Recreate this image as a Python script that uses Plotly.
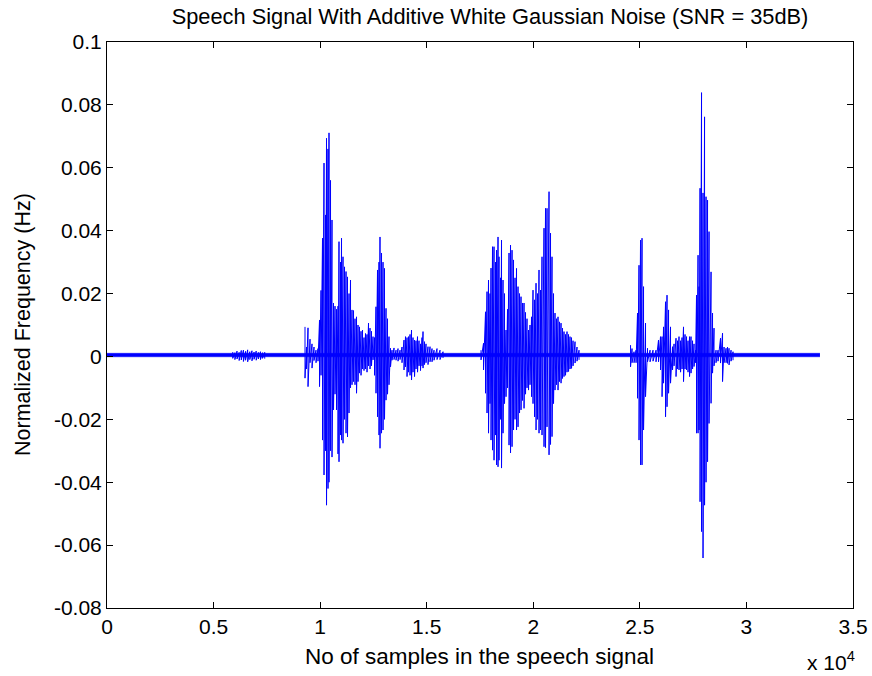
import plotly.graph_objects as go

# ---------------- data ----------------
# Noise floor envelope (sample index, upper, lower)
band_x = [0, 33450]
band_hi = [0.0010, 0.0010]
band_lo = [-0.0001, -0.0001]

# Voiced / noisy bursts: sample index, positive peak, negative peak
burst_x = [
    5900, 6000, 6100, 6200, 6300, 6400, 6500, 6600, 6700, 6800, 6900, 7000, 7100, 7200, 7300, 7400,
    None,
    9290, 9361, 9431, 9525, 9619, 9712, 9806, 9900, 9971, 10041, 10111, 10182, 10252, 10299,
    10369, 10416, 10487, 10557, 10627, 10698, 10768, 10838, 10885, 10956, 11003, 11073, 11144,
    11214, 11284, 11355, 11425, 11495, 11566, 11636, 11707, 11777, 11847, 11918, 11988, 12058,
    12129, 12199, 12270, 12340, 12410, 12481, 12551, 12621, 12692, 12762, 12809, 12880, 12950,
    13020, 13091, 13161, 13231, 13302, 13372, 13466, 13560, 13654, 13748, 13841, 13935, 14006,
    14076, 14146, 14217, 14287, 14357, 14428, 14498, 14569, 14639, 14709, 14780, 14827, 14897,
    14967, 15061, 15155, 15249, 15343, 15484, 15624, 15765,
    None,
    17548, 17665, 17759, 17830, 17900, 17970, 18017, 18088, 18158, 18228, 18275, 18346, 18393,
    18463, 18510, 18580, 18651, 18721, 18791, 18862, 18932, 19003, 19073, 19143, 19214, 19284,
    19354, 19425, 19495, 19566, 19636, 19706, 19777, 19847, 19918, 19988, 20058, 20129, 20199,
    20269, 20340, 20410, 20504, 20574, 20645, 20739, 20809, 20879, 20950, 21020, 21091, 21161,
    21231, 21302, 21372, 21442, 21513, 21583, 21654, 21724, 21794, 21865, 21959, 22052, 22146,
    None,
    24563, 24633, 24727, 24821, 24891, 24961, 25032, 25102, 25173, 25266, 25360, 25478, 25618,
    25759, 25876, 25970, 26041, 26111, 26205, 26275, 26346, 26439, 26533, 26604, 26697, 26768,
    26838, 26909, 26979, 27049, 27120, 27190, 27260, 27331, 27401, 27472, 27542, 27612, 27659,
    27730, 27777, 27824, 27894, 27964, 28035, 28105, 28176, 28246, 28340, 28410, 28480, 28574,
    28668, 28785, 28879, 28950, 29044, 29114, 29184, 29278, 29372,
]
burst_hi = [
    0.0014, 0.0012, 0.0017, 0.0013, 0.0019, 0.0020, 0.0016, 0.0021, 0.0015, 0.0018, 0.0014, 0.0017,
    0.0013, 0.0015, 0.0012, 0.0013,
    None,
    0.0094, 0.0030, 0.0091, 0.0055, 0.0040, 0.0030, 0.0020, 0.0025, 0.0116, 0.0210, 0.0376, 0.0615,
    0.0450, 0.0694, 0.0660, 0.0711, 0.0560, 0.0434, 0.0170, 0.0160, 0.0150, 0.0160, 0.0365, 0.0300,
    0.0376, 0.0317, 0.0285, 0.0270, 0.0253, 0.0200, 0.0243, 0.0148, 0.0146, 0.0120, 0.0126, 0.0100,
    0.0094, 0.0080, 0.0084, 0.0060, 0.0073, 0.0070, 0.0106, 0.0090, 0.0080, 0.0063, 0.0060, 0.0158,
    0.0275, 0.0300, 0.0380, 0.0329, 0.0300, 0.0280, 0.0153, 0.0120, 0.0063, 0.0026, 0.0020, 0.0027,
    0.0020, 0.0025, 0.0020, 0.0030, 0.0052, 0.0063, 0.0060, 0.0063, 0.0070, 0.0084, 0.0060, 0.0052,
    0.0050, 0.0063, 0.0050, 0.0040, 0.0060, 0.0079, 0.0047, 0.0040, 0.0031, 0.0031, 0.0025, 0.0020,
    0.0025, 0.0020, 0.0015,
    None,
    0.0020, 0.0042, 0.0142, 0.0206, 0.0243, 0.0200, 0.0281, 0.0349, 0.0349, 0.0300, 0.0338, 0.0380,
    0.0317, 0.0250, 0.0370, 0.0243, 0.0200, 0.0084, 0.0150, 0.0329, 0.0354, 0.0338, 0.0307, 0.0250,
    0.0280, 0.0222, 0.0200, 0.0190, 0.0170, 0.0170, 0.0140, 0.0120, 0.0084, 0.0100, 0.0126, 0.0211,
    0.0180, 0.0233, 0.0200, 0.0275, 0.0211, 0.0317, 0.0408, 0.0471, 0.0471, 0.0524, 0.0392, 0.0317,
    0.0200, 0.0138, 0.0120, 0.0126, 0.0110, 0.0106, 0.0090, 0.0079, 0.0070, 0.0079, 0.0070, 0.0063,
    0.0060, 0.0050, 0.0047, 0.0030, 0.0020,
    None,
    0.0036, 0.0025, 0.0015, 0.0020, 0.0138, 0.0290, 0.0370, 0.0376, 0.0222, 0.0106, 0.0026, 0.0020,
    0.0020, 0.0020, 0.0052, 0.0063, 0.0063, 0.0094, 0.0174, 0.0195, 0.0148, 0.0094, 0.0031, 0.0040,
    0.0058, 0.0050, 0.0063, 0.0050, 0.0060, 0.0094, 0.0070, 0.0063, 0.0050, 0.0063, 0.0063, 0.0050,
    0.0040, 0.0020, 0.0195, 0.0322, 0.0222, 0.0535, 0.0839, 0.0520, 0.0762, 0.0508, 0.0497, 0.0397,
    0.0269, 0.0138, 0.0090, 0.0020, 0.0020, 0.0058, 0.0074, 0.0030, 0.0026, 0.0030, 0.0026, 0.0020,
    0.0015,
]
burst_lo = [
    -0.0006, -0.0010, -0.0008, -0.0013, -0.0011, -0.0016, -0.0012, -0.0017, -0.0010, -0.0014, -0.0009,
    -0.0012, -0.0008, -0.0010, -0.0006, -0.0007,
    None,
    -0.0069, -0.0040, -0.0096, -0.0020, -0.0037, -0.0013, -0.0020, -0.0015, -0.0096, -0.0060, -0.0266,
    -0.0377, -0.0300, -0.0473, -0.0420, -0.0400, -0.0300, -0.0320, -0.0170, -0.0120, -0.0170, -0.0310,
    -0.0335, -0.0250, -0.0266, -0.0276, -0.0200, -0.0244, -0.0256, -0.0180, -0.0100, -0.0090, -0.0080,
    -0.0090, -0.0117, -0.0080, -0.0053, -0.0060, -0.0040, -0.0045, -0.0040, -0.0050, -0.0030, -0.0040,
    -0.0030, -0.0011, -0.0060, -0.0117, -0.0192, -0.0250, -0.0292, -0.0244, -0.0234, -0.0200, -0.0139,
    -0.0120, -0.0090, -0.0033, -0.0012, -0.0010, -0.0012, -0.0015, -0.0010, -0.0020, -0.0043, -0.0033,
    -0.0064, -0.0050, -0.0060, -0.0075, -0.0050, -0.0064, -0.0040, -0.0050, -0.0030, -0.0045, -0.0030,
    -0.0037, -0.0026, -0.0020, -0.0026, -0.0017, -0.0017, -0.0012, -0.0010, -0.0010, -0.0005,
    None,
    -0.0011, -0.0043, -0.0117, -0.0180, -0.0244, -0.0150, -0.0266, -0.0298, -0.0330, -0.0250, -0.0345,
    -0.0351, -0.0330, -0.0200, -0.0355, -0.0244, -0.0150, -0.0128, -0.0100, -0.0282, -0.0307, -0.0287,
    -0.0234, -0.0200, -0.0234, -0.0224, -0.0180, -0.0170, -0.0140, -0.0165, -0.0120, -0.0100, -0.0107,
    -0.0090, -0.0128, -0.0150, -0.0192, -0.0234, -0.0200, -0.0244, -0.0234, -0.0250, -0.0287, -0.0290,
    -0.0224, -0.0313, -0.0280, -0.0255, -0.0150, -0.0107, -0.0090, -0.0107, -0.0080, -0.0085, -0.0070,
    -0.0064, -0.0060, -0.0050, -0.0048, -0.0040, -0.0038, -0.0030, -0.0021, -0.0015, -0.0011,
    None,
    -0.0033, -0.0020, -0.0020, -0.0020, -0.0133, -0.0266, -0.0345, -0.0345, -0.0234, -0.0128, -0.0017,
    -0.0017, -0.0015, -0.0017, -0.0017, -0.0043, -0.0128, -0.0085, -0.0192, -0.0160, -0.0117, -0.0085,
    -0.0043, -0.0030, -0.0064, -0.0040, -0.0043, -0.0050, -0.0040, -0.0080, -0.0040, -0.0043, -0.0050,
    -0.0064, -0.0053, -0.0040, -0.0032, -0.0020, -0.0244, -0.0244, -0.0234, -0.0462, -0.0557, -0.0641,
    -0.0473, -0.0400, -0.0335, -0.0213, -0.0149, -0.0053, -0.0030, -0.0020, -0.0015, -0.0021, -0.0080,
    -0.0020, -0.0020, -0.0022, -0.0027, -0.0015, -0.0012,
]

x_tick_vals = [0, 5000, 10000, 15000, 20000, 25000, 30000, 35000]
x_tick_text = ["0", "0.5", "1", "1.5", "2", "2.5", "3", "3.5"]
y_tick_vals = [-0.08, -0.06, -0.04, -0.02, 0, 0.02, 0.04, 0.06, 0.08, 0.1]
y_tick_text = ["-0.08", "-0.06", "-0.04", "-0.02", "0", "0.02", "0.04", "0.06", "0.08", "0.1"]

TITLE = "Speech Signal With Additive White Gaussian Noise (SNR = 35dB)"
XLABEL = "No of samples in the speech signal"
YLABEL = "Normalized Frequency (Hz)"

# ---------------- build the zig-zag trace from the peak lists ----------------
zx, zy = [], []
for x, hi, lo in zip(burst_x, burst_hi, burst_lo):
    if x is None:
        zx.append(None)
        zy.append(None)
        continue
    zx += [x, x]
    zy += [hi, lo]

BLUE = "#0000FF"
FONT = "Liberation Sans, Arial, Helvetica, sans-serif"
W, H = 872, 676
L, R, T, B = 107, 19, 42, 68
PW, PH = W - L - R, H - T - B

fig = go.Figure()
fig.add_trace(go.Scatter(x=band_x, y=band_lo, mode="lines",
                         line=dict(color=BLUE, width=0.5), hoverinfo="skip", showlegend=False))
fig.add_trace(go.Scatter(x=band_x, y=band_hi, mode="lines", fill="tonexty", fillcolor=BLUE,
                         line=dict(color=BLUE, width=0.5), hoverinfo="skip", showlegend=False))
fig.add_trace(go.Scatter(x=zx, y=zy, mode="lines", line=dict(color=BLUE, width=1),
                         connectgaps=False, showlegend=False))

axis_common = dict(showline=True, linecolor="black", linewidth=1, mirror="ticks",
                   ticks="inside", ticklen=6, tickcolor="black", tickwidth=1,
                   showgrid=False, zeroline=False, automargin=False,
                   tickfont=dict(family=FONT, size=21, color="black"))
fig.update_xaxes(range=[0, 35000], tickmode="array", tickvals=x_tick_vals, ticktext=x_tick_text,
                 **axis_common)
fig.update_yaxes(range=[-0.08, 0.1], tickmode="array", tickvals=y_tick_vals, ticktext=y_tick_text,
                 **axis_common)

fig.update_layout(
    width=W, height=H, autosize=False,
    margin=dict(l=L, r=R, t=T, b=B, autoexpand=False),
    plot_bgcolor="white", paper_bgcolor="white",
    font=dict(family=FONT, color="black"),
    title=dict(text=TITLE, x=(490 - L) / PW, xref="paper", xanchor="center",
               y=1 - 16 / H, yref="container", yanchor="middle",
               font=dict(family=FONT, size=21.8, color="black")),
    annotations=[
        dict(text=XLABEL, xref="paper", yref="paper", x=(479 - L) / PW, y=-(656 - 608) / PH,
             xanchor="center", yanchor="middle", showarrow=False,
             font=dict(family=FONT, size=22.5, color="black")),
        dict(text=YLABEL, xref="paper", yref="paper", x=-(L - 23) / PW, y=0.5,
             xanchor="center", yanchor="middle", textangle=-90, showarrow=False,
             font=dict(family=FONT, size=21.5, color="black")),
        dict(text="x 10<sup>4</sup>", xref="paper", yref="paper", x=(857 - L) / PW,
             y=-(661 - 608) / PH, xanchor="right", yanchor="middle", showarrow=False,
             font=dict(family=FONT, size=21, color="black")),
    ],
)

fig.write_html("out.html")
